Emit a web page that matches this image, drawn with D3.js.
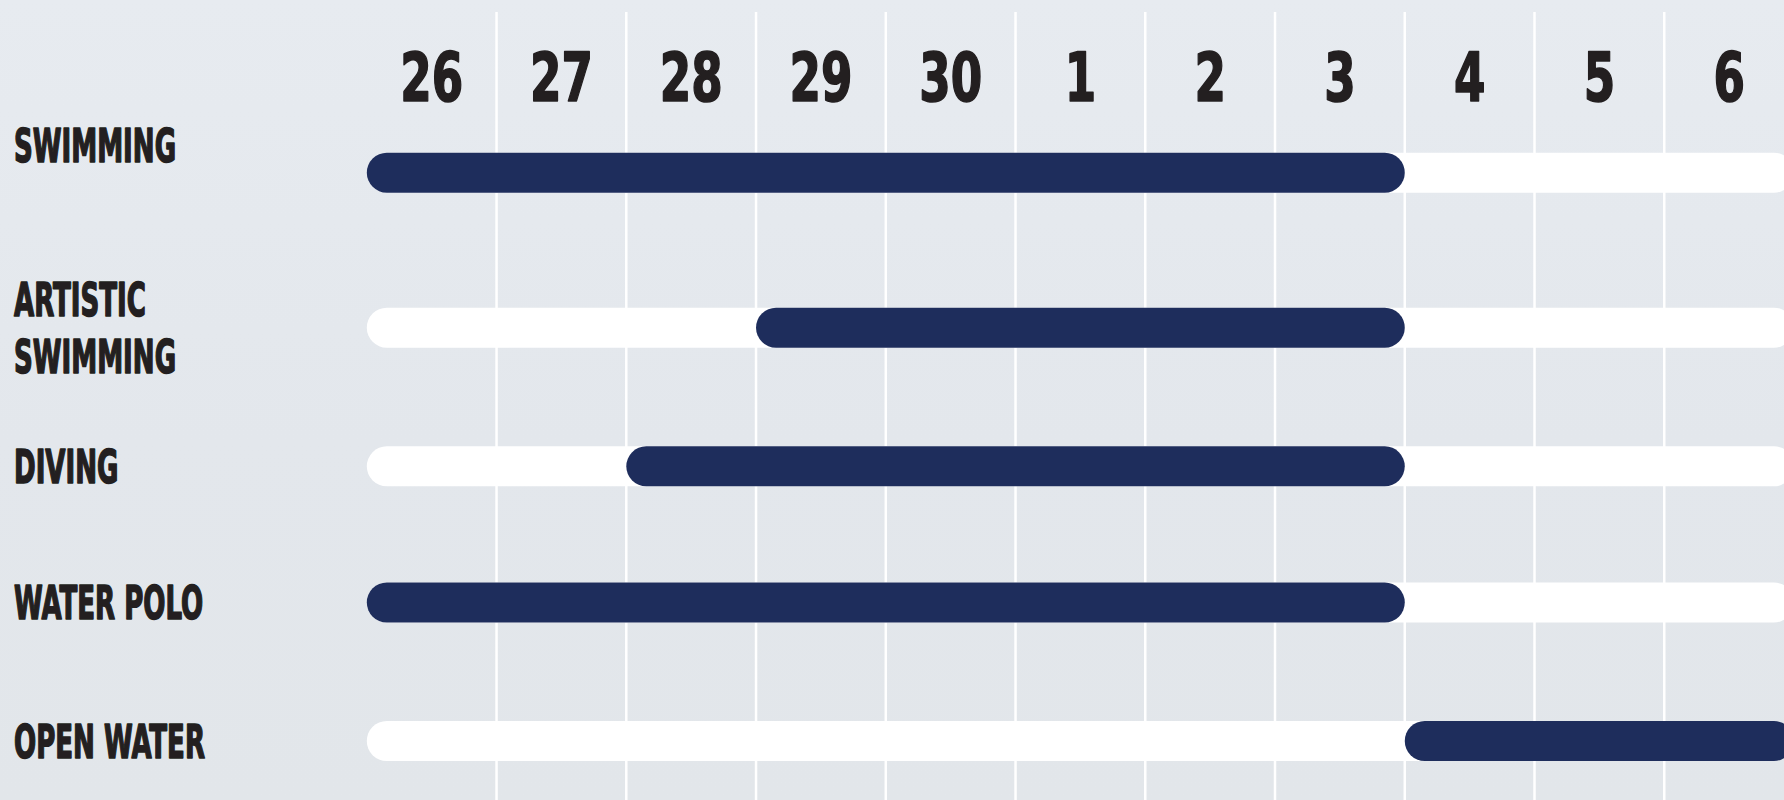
<!DOCTYPE html>
<head>
<meta charset="utf-8">
<title>Aquatics Schedule</title>
<script type="text/javascript" src="https://d3js.org/d3.v7.min.js"></script>
<style>
    body { margin: 0; overflow: hidden; }
    /* labels */
    .day-label, .sport-label {
    fill: #231f20;
    stroke: #231f20;
    stroke-width: 1.6;
    stroke-linejoin: round;
    font-family: "Liberation Sans Narrow", "DejaVu Sans Condensed", "Liberation Sans", sans-serif;
    font-weight: bold;
    }
    .day-label { font-size: 68px; }
    .sport-label { font-size: 46px; }
    .grid line {
    stroke: #ffffff;
    stroke-width: 2.5;
    }
    .track { fill: #ffffff; }
    .event { fill: #1e2d5c; }
</style>
</head>
<body>
<div id="container"></div>
<script>
//-----------------------------DATA-----------------------------//
var days = ["26", "27", "28", "29", "30", "1", "2", "3", "4", "5", "6"];
var sports = ["SWIMMING", "ARTISTIC\nSWIMMING", "DIVING", "WATER POLO", "OPEN WATER"];
var firstDay = ["26", "29", "28", "26", "4"];
var lastDay = ["3", "3", "3", "3", "6"];

//----------------------------LAYOUT----------------------------//
var width = 1784, height = 800;
var rowCenters = [172.7, 327.7, 466.3, 602.5, 741];
var barH = 40;
var dayCondense = 0.74, sportCondense = 0.63;

var svg = d3.select("div#container").append("svg")
    .attr("width", width)
    .attr("height", height);

// background
var grad = svg.append("defs").append("linearGradient")
    .attr("id", "bg").attr("x1", 0).attr("y1", 0).attr("x2", 0).attr("y2", 1);
grad.append("stop").attr("offset", "0%").attr("stop-color", "#e7ebf0");
grad.append("stop").attr("offset", "55%").attr("stop-color", "#e3e7ec");
grad.append("stop").attr("offset", "100%").attr("stop-color", "#e2e6ea");
svg.append("rect").attr("width", width).attr("height", height).attr("fill", "url(#bg)");

//----------------------------SCALES----------------------------//
var x = d3.scaleBand().domain(days).range([366.8, 1794]).padding(0);
var y = d3.scaleOrdinal().domain(sports).range(rowCenters);

//-----------------------------GRID-----------------------------//
svg.append("g").attr("class", "grid")
    .selectAll("line")
    .data(days.slice(1))
    .enter().append("line")
    .attr("x1", function(d) { return x(d); })
    .attr("x2", function(d) { return x(d); })
    .attr("y1", 12)
    .attr("y2", height);

//----------------------------DAYS------------------------------//
svg.selectAll(".day-label")
    .data(days)
    .enter().append("text")
    .attr("class", "day-label")
    .attr("text-anchor", "middle")
    .attr("transform", function(d) {
        return "translate(" + (x(d) + x.bandwidth() / 2) + ",101) scale(" + dayCondense + ",1)";
    })
    .text(function(d) { return d; });

//----------------------------BARS------------------------------//
var rows = sports.map(function(s, i) {
    return {sport: s, from: firstDay[i], to: lastDay[i]};
});

svg.selectAll(".track")
    .data(rows)
    .enter().append("rect")
    .attr("class", "track")
    .attr("x", x(days[0]))
    .attr("width", x(days[days.length - 1]) + x.bandwidth() - x(days[0]))
    .attr("y", function(d) { return y(d.sport) - barH / 2; })
    .attr("height", barH)
    .attr("rx", barH / 2);

svg.selectAll(".event")
    .data(rows)
    .enter().append("rect")
    .attr("class", "event")
    .attr("x", function(d) { return x(d.from); })
    .attr("width", function(d) { return x(d.to) + x.bandwidth() - x(d.from); })
    .attr("y", function(d) { return y(d.sport) - barH / 2; })
    .attr("height", barH)
    .attr("rx", barH / 2);

//----------------------------LABELS----------------------------//
var lineGap = 57;
rows.forEach(function(d, i) {
    var lines = d.sport.split("\n");
    // first label sits above its bar
    var base = y(d.sport) + 16.5 - (lines.length - 1) * lineGap / 2 - (i == 0 ? 27 : 0);
    lines.forEach(function(t, j) {
        svg.append("text")
            .attr("class", "sport-label")
            .attr("transform", "translate(14," + (base + j * lineGap) + ") scale(" + sportCondense + ",1)")
            .text(t);
    });
});
</script>
</body>
